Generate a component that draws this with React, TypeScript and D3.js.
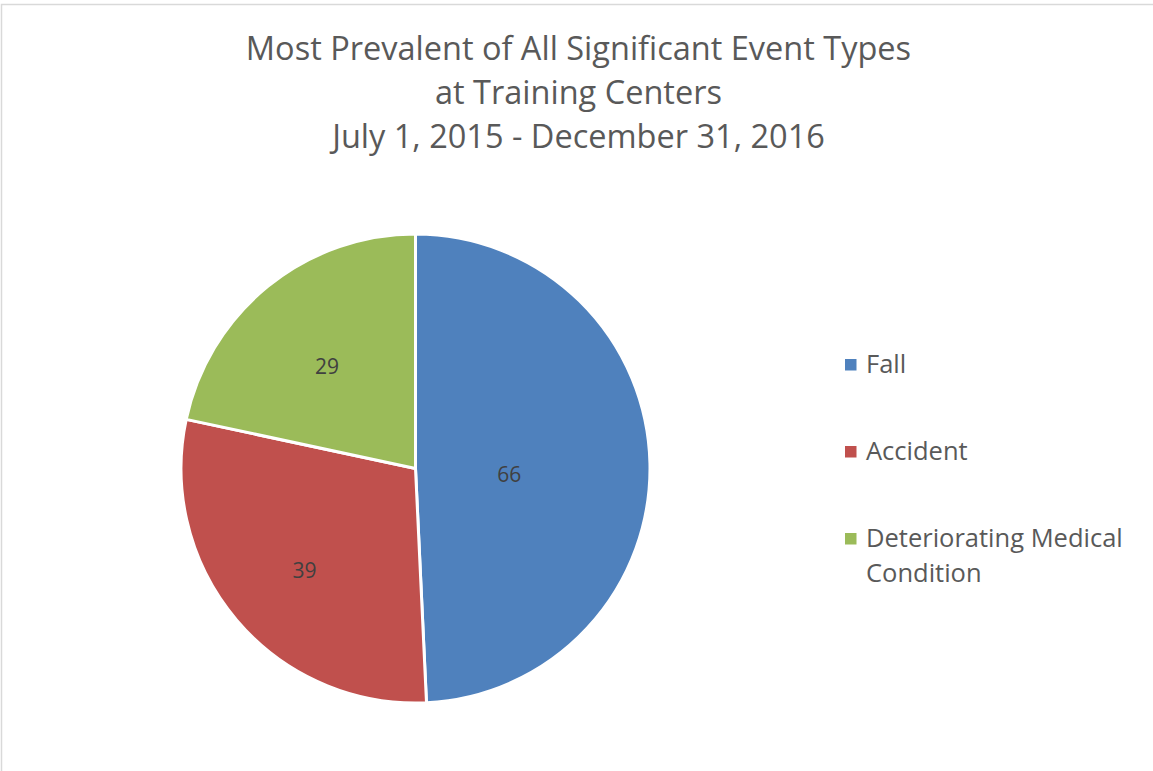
import * as d3 from "d3";
import React from "react";

// data
const categories = ["Fall", "Accident", "Deteriorating Medical Condition"];
const counts = [66, 39, 29];
const colors = ["#4F81BD", "#C0504D", "#9BBB59"];
// how far out (fraction of radius) each value label sits
const labelRadius = [0.4, 0.62, 0.6];
const titleLines = [
  "Most Prevalent of All Significant Event Types",
  "at Training Centers",
  "July 1, 2015 - December 31, 2016",
];
const legendLines = [["Fall"], ["Accident"], ["Deteriorating Medical", "Condition"]];

export default function App() {
  const width = 1153;
  const height = 771;
  const cx = 415.5;
  const cy = 468.5;
  const r = 234.5;
  const font = "'Open Sans', 'Noto Sans', sans-serif";

  const pie = d3
    .pie<number>()
    .sort(null)
    .value((d) => d);
  const arcs = pie(counts);

  const arc = d3.arc<d3.PieArcDatum<number>>().innerRadius(0).outerRadius(r);

  const legendY = d3
    .scalePoint<string>()
    .domain(categories)
    .range([364.5, 538.5]);

  return (
    <svg
      width={width}
      height={height}
      style={{ position: "absolute", left: 0, top: 0, background: "#fff" }}
    >
      <rect
        x="1.5"
        y="4.5"
        width={width + 10}
        height={height + 10}
        fill="#fff"
        stroke="#d9d9d9"
        strokeWidth="1.5"
      />
      <g fill="#595959" fontFamily={font} fontSize="32.5" textAnchor="middle">
        {titleLines.map((t, i) => (
          <text key={i} x={578.5} y={60 + i * 44}>
            {t}
          </text>
        ))}
      </g>
      <g transform={`translate(${cx},${cy})`}>
        {arcs.map((a, i) => (
          <path
            key={categories[i]}
            d={arc(a) || ""}
            fill={colors[i]}
            stroke="#fff"
            strokeWidth="3"
            strokeLinejoin="round"
          />
        ))}
        {arcs.map((a, i) => {
          const la = d3
            .arc<d3.PieArcDatum<number>>()
            .innerRadius(0)
            .outerRadius(2 * r * labelRadius[i]);
          const [lx, ly] = la.centroid(a);
          return (
            <text
              key={"l" + i}
              x={lx}
              y={ly + 8}
              dy="0.35em"
              textAnchor="middle"
              fontFamily={font}
              fontSize="21"
              fill="#404040"
            >
              {a.data}
            </text>
          );
        })}
      </g>
      <g fontFamily={font} fontSize="25.5" fill="#595959">
        {categories.map((c, i) => {
          const y = legendY(c) as number;
          return (
            <g key={c}>
              <rect x={845} y={y - 5.5} width={11.5} height={11.5} fill={colors[i]} />
              {legendLines[i].map((line, j) => (
                <text key={j} x={866} y={y + 8.5 + j * 35}>
                  {line}
                </text>
              ))}
            </g>
          );
        })}
      </g>
    </svg>
  );
}
